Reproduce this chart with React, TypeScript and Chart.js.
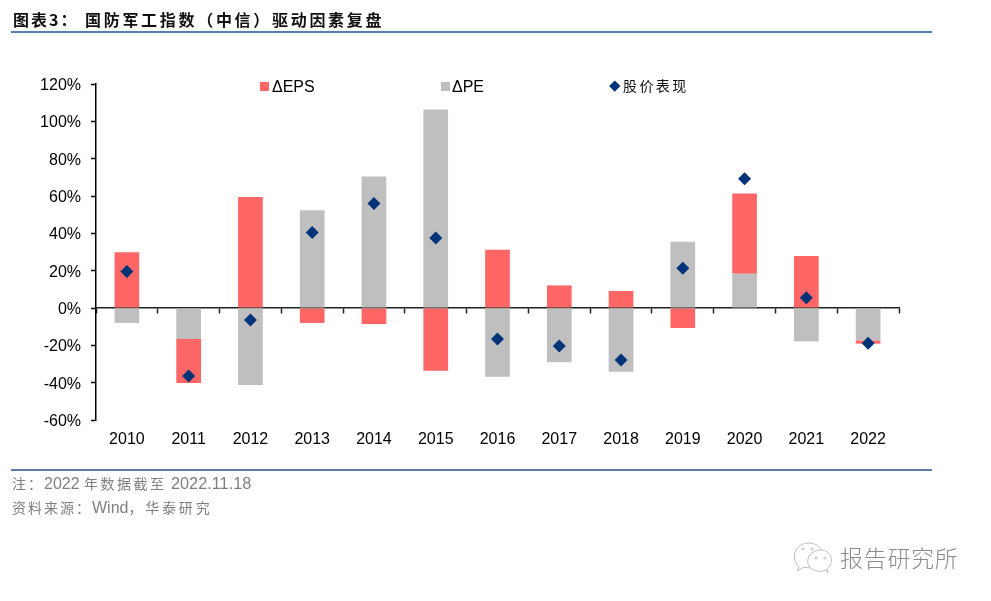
import { useEffect, useRef } from 'react';
import type { CSSProperties } from 'react';
import Chart from 'chart.js/auto';

const years = ['2010', '2011', '2012', '2013', '2014', '2015', '2016', '2017', '2018', '2019', '2020', '2021', '2022'];
const epsValues = [29.8, -23.6, 59.5, -8, -8.6, -33.6, 31.2, 12.1, 9.1, -10.7, 43, 27.9, -1.8];
const peValues = [-8, -16.6, -41.2, 52.3, 70.4, 106.4, -36.8, -29.1, -34.1, 35.5, 18.4, -17.9, -17.3];
const priceValues = [19.5, -36.4, -6.4, 40.4, 56, 37.5, -16.6, -20.4, -27.9, 21.3, 69.3, 5.5, -18.9];

const RED = '#FF6666';
const GRAY = '#BFBFBF';
const NAVY = '#003478';
const RULE = '#5B7DAB';
const SANS = '"Liberation Sans", "Noto Sans CJK SC", sans-serif';
const CJK = '"Noto Sans CJK SC", sans-serif';

const at = (left: number, top: number, extra: CSSProperties = {}): CSSProperties => ({
  position: 'absolute',
  left,
  top,
  whiteSpace: 'nowrap',
  ...extra,
});

const App = () => {
  const chartRef = useRef<HTMLCanvasElement | null>(null);

  useEffect(() => {
    if (!chartRef.current) return;
    const chart = new Chart(chartRef.current, {
      type: 'bar',
      data: {
        labels: years,
        datasets: [
          // PE sits first so it stacks next to the zero line, as in the picture
          { label: 'ΔPE', data: peValues, backgroundColor: GRAY, barPercentage: 1, categoryPercentage: 0.4 },
          { label: 'ΔEPS', data: epsValues, backgroundColor: RED, barPercentage: 1, categoryPercentage: 0.4 },
          {
            type: 'line',
            label: '股价表现',
            data: priceValues,
            order: -1, // draw the diamonds over the bars
            showLine: false,
            pointStyle: 'rectRot',
            pointRadius: 6.5,
            pointBackgroundColor: NAVY,
            pointBorderWidth: 0,
          },
        ],
      },
      options: {
        animation: false,
        responsive: false,
        layout: { padding: { left: 0, top: 84, right: 92, bottom: 141 } },
        plugins: { legend: { display: false }, title: { display: false }, tooltip: { enabled: false } },
        scales: {
          x: {
            stacked: true,
            grid: { display: false },
            border: { display: false },
            ticks: {
              color: '#000',
              font: { family: SANS, size: 16 },
              padding: 2,
              maxRotation: 0,
              autoSkip: false,
            },
            afterFit: (scale) => {
              scale.height = 40;
            },
          },
          // zero line with the tick marks between the years
          x2: {
            type: 'category',
            labels: years,
            position: { y: 0 },
            offset: true,
            z: 1,
            border: { color: '#222', width: 1.5 },
            grid: { offset: true, drawOnChartArea: false, tickLength: 5, tickColor: '#222', tickWidth: 1.5 },
            ticks: { display: false },
          },
          y: {
            stacked: true,
            min: -60,
            max: 120,
            border: { color: '#000', width: 1.5 },
            grid: { drawOnChartArea: false, tickLength: 5, tickColor: '#000', tickWidth: 1.5 },
            ticks: {
              stepSize: 20,
              color: '#000',
              font: { family: SANS, size: 16 },
              padding: 10,
              labelOffset: 1.5,
              callback: (value) => `${value}%`,
            },
            afterFit: (scale) => {
              scale.width = 96;
            },
          },
        },
      },
    });

    return () => {
      chart.destroy();
    };
  }, []);

  return (
    <div style={{ position: 'absolute', left: 0, top: 0, width: 991, height: 601, background: '#fff', overflow: 'hidden' }}>
      <canvas ref={chartRef} width={991} height={601} style={{ position: 'absolute', left: 0, top: 0 }}></canvas>

      <div style={at(13, 7, { fontFamily: CJK, fontWeight: 700, fontSize: 16, letterSpacing: 2, color: '#111' })}>{'图表3\uFF1A'}</div>
      <div style={at(85, 7, { fontFamily: CJK, fontWeight: 700, fontSize: 16, letterSpacing: 2.7, color: '#111' })}>
        {'国防军工指数\uFF08中信\uFF09驱动因素复盘'}
      </div>
      <div style={at(11, 31, { width: 921, height: 2, background: RULE })}></div>

      <div style={at(260, 82, { width: 9, height: 9, background: RED })}></div>
      <div style={at(272, 78, { fontFamily: SANS, fontSize: 16, color: '#000' })}>ΔEPS</div>
      <div style={at(441, 82, { width: 9, height: 9, background: GRAY })}></div>
      <div style={at(452, 78, { fontFamily: SANS, fontSize: 16, color: '#000' })}>ΔPE</div>
      <div style={at(611.25, 82.25, { width: 7.5, height: 7.5, background: NAVY, transform: 'rotate(45deg)' })}></div>
      <div style={at(623, 75, { fontFamily: CJK, fontSize: 14, letterSpacing: 2.4, color: '#111' })}>股价表现</div>

      <div style={at(11, 469, { width: 921, height: 2, background: RULE })}></div>
      <div style={at(12, 473, { fontFamily: SANS, fontSize: 16, color: '#7F7F7F' })}>
        <span style={{ fontFamily: CJK, fontSize: 14, letterSpacing: 2 }}>{'注\uFF1A'}</span>2022{' '}
        <span style={{ fontFamily: CJK, fontSize: 14, letterSpacing: 2.5 }}>年数据截至</span>{' '}
        <span style={{ fontSize: 16.3 }}>2022.11.18</span>
      </div>
      <div style={at(12, 497, { fontFamily: SANS, fontSize: 16, color: '#7F7F7F' })}>
        <span style={{ fontFamily: CJK, fontSize: 14, letterSpacing: 2 }}>{'资料来源\uFF1A'}</span>Wind
        <span style={{ fontFamily: CJK, fontSize: 14, letterSpacing: 2.8 }}>{'\uFF0C华泰研究'}</span>
      </div>

      <svg width={42} height={36} style={at(792, 540)} fill="#fff" stroke="#bdbdbd" strokeWidth={1}>
        <path d="M7 27 C-1 20 1 4 16 3 C28 3 33 12 29 20 C26 27 17 29 12 27 L5 31 Z" />
        <path d="M36 33 L35 29 C42 24 41 12 30 10 C19 9 13 19 17 26 C20 31 29 33 34 30 Z" />
        <circle cx={11} cy={9} r={1} />
        <circle cx={20} cy={9} r={1} />
        <circle cx={24} cy={18} r={1} />
        <circle cx={33} cy={18} r={1} />
      </svg>
      <div style={at(840, 540, { fontFamily: CJK, fontWeight: 300, fontSize: 23, letterSpacing: 0.7, color: '#8A8A8A' })}>报告研究所</div>
    </div>
  );
};

export default App;
